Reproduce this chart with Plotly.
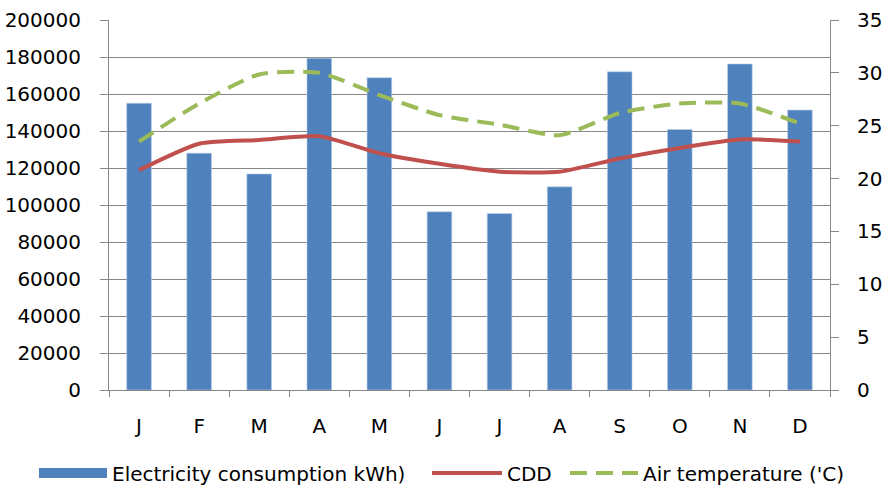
import plotly.graph_objects as go

months = ["J", "F", "M", "A", "M", "J", "J", "A", "S", "O", "N", "D"]
# plotly category axes merge repeated labels, so each month gets a unique key
month_keys = [f"{i}" for i in range(len(months))]

electricity_kwh = [155000, 128000, 116800, 179300, 168800, 96300,
                   95400, 109800, 172000, 140800, 176200, 151300]
cdd = [20.8, 23.3, 23.65, 24.0, 22.4, 21.4, 20.65, 20.65, 21.9, 22.9, 23.7, 23.5]
air_temp = [23.5, 27.1, 29.85, 30.0, 27.9, 26.0, 25.1, 24.1, 26.2, 27.1, 27.1, 25.2]

left_ticks = list(range(0, 200001, 20000))
right_ticks = list(range(0, 36, 5))

BLUE = "#4F81BD"
RED = "#C0504D"
GREEN = "#9BBB59"
GRID = "#878787"
FONT = "DejaVu Sans"
FS = 20

fig = go.Figure()

fig.add_trace(go.Bar(
    x=month_keys, y=electricity_kwh, name="Electricity consumption kWh)",
    marker=dict(color=BLUE, line=dict(color="#B9CDE5", width=0.6)),
    width=0.41, showlegend=False,
))
# legend entry drawn as a wide block for the bars
fig.add_trace(go.Scatter(
    x=[None], y=[None], mode="lines", name="Electricity consumption kWh)",
    line=dict(color=BLUE, width=13), legend="legend",
))
fig.add_trace(go.Scatter(
    x=month_keys, y=cdd, name="CDD", yaxis="y2", mode="lines",
    line=dict(color=RED, width=4, shape="spline", smoothing=0.6), legend="legend2",
))
fig.add_trace(go.Scatter(
    x=month_keys, y=air_temp, name="Air temperature ('C)", yaxis="y2", mode="lines",
    line=dict(color=GREEN, width=4, shape="spline", smoothing=0.6, dash="17px,9px"),
    legend="legend3",
))


def legend_at(x_px, item_w):
    return dict(
        orientation="h", xref="container", x=x_px / 883, xanchor="left",
        yref="container", y=0.027, yanchor="middle",
        itemwidth=item_w, font=dict(family=FONT, size=FS),
        bgcolor="rgba(0,0,0,0)",
    )


fig.update_layout(
    width=883, height=486,
    margin=dict(l=109, r=53, t=20, b=96, autoexpand=False),
    paper_bgcolor="white", plot_bgcolor="white",
    font=dict(family=FONT, size=FS, color="#000000"),
    xaxis=dict(
        type="category", tickmode="array", tickvals=month_keys, ticktext=months,
        tickson="boundaries", ticks="outside", ticklen=6, tickcolor=GRID,
        showline=True, linecolor=GRID, linewidth=1, showgrid=False,
        tickfont=dict(family=FONT, size=FS), ticklabelstandoff=18,
        range=[-0.5, 11.5], automargin=False,
    ),
    yaxis=dict(
        range=[0, 200000], tickvals=left_ticks, ticktext=[str(v) for v in left_ticks],
        showgrid=True, gridcolor=GRID, gridwidth=1,
        showline=True, linecolor=GRID, linewidth=1,
        ticks="outside", ticklen=8, tickcolor=GRID,
        tickfont=dict(family=FONT, size=FS), ticklabelstandoff=15,
        zeroline=False, automargin=False,
    ),
    yaxis2=dict(
        range=[0, 35], tickvals=right_ticks, overlaying="y", side="right",
        showgrid=False, showline=True, linecolor=GRID, linewidth=1,
        ticks="outside", ticklen=8, tickcolor=GRID,
        tickfont=dict(family=FONT, size=FS), ticklabelstandoff=14,
        zeroline=False, automargin=False,
    ),
    legend=legend_at(34, 68),
    legend2=legend_at(427, 70),
    legend3=legend_at(565, 68),
)

fig.write_html("out.html")
